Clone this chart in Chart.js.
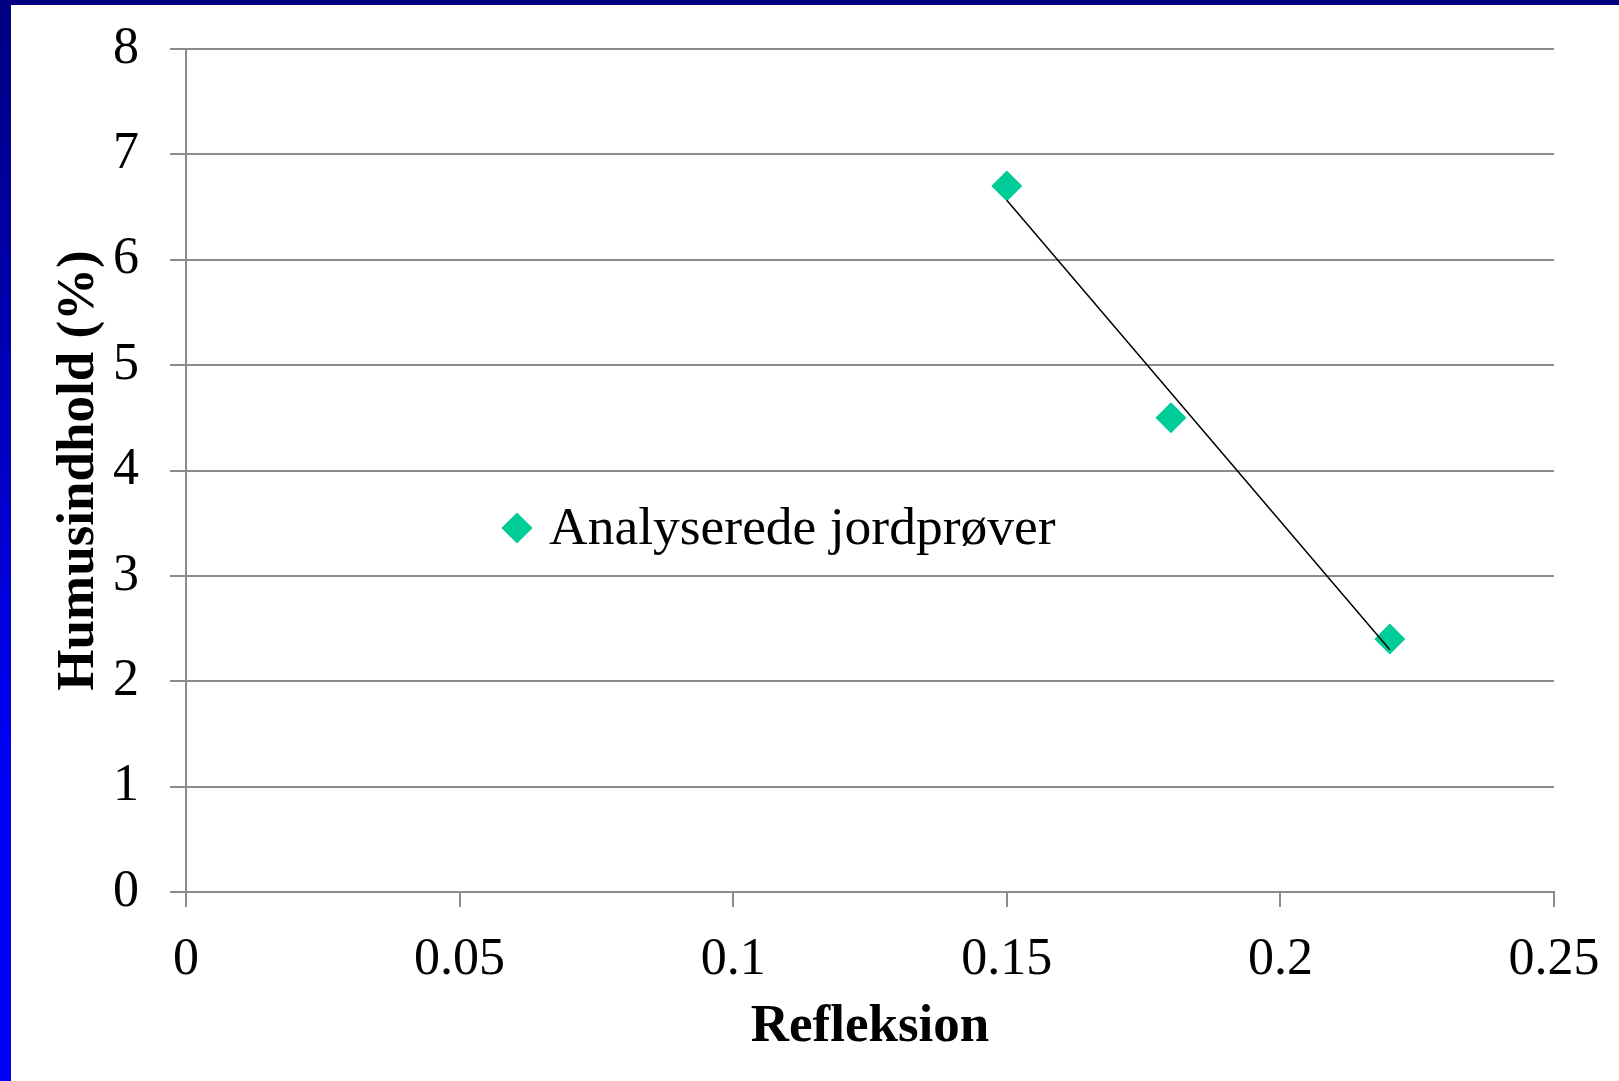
<!DOCTYPE html>
<html>
<head>
<meta charset="utf-8">
<script src="https://cdn.jsdelivr.net/npm/chart.js@4/dist/chart.umd.min.js"></script>
<style>
  html, body { margin: 0; padding: 0; background: #ffffff; overflow: hidden; }
  #wrap { position: absolute; left: 0; top: 0; width: 1619px; height: 1081px; }
  #topband { position: absolute; left: 0; top: 0; width: 1619px; height: 5px; background: #000080; }
  #leftband { position: absolute; left: 0; top: 0; width: 11px; height: 1081px;
    background: linear-gradient(to bottom, #000080 0%, #0000c8 45%, #0000ff 75%, #0000ff 100%); }
  #legend { position: absolute; left: 500px; top: 500px; height: 56px;
    font-family: 'Liberation Serif', 'Times New Roman', serif; font-size: 53.5px; line-height: 53px; color: #000; white-space: nowrap; }
  #legend .mark { position: absolute; left: 6px; top: 17px; width: 22px; height: 22px; transform: rotate(45deg); }
  #legend .txt { position: absolute; left: 49px; top: 0; }
</style>
</head>
<body>
<div id="wrap"><canvas id="c"></canvas></div>
<div id="topband"></div>
<div id="leftband"></div>
<div id="legend"></div>
<script>
// ---- data ----
const seriesLabel = 'Analyserede jordprøver';
const reflexion = [0.15, 0.18, 0.22];
const humus = [6.7, 4.5, 2.4];
const xTickLabels = ['0', '0.05', '0.1', '0.15', '0.2', '0.25'];
const yTickLabels = ['0', '1', '2', '3', '4', '5', '6', '7', '8'];
const xTitle = 'Refleksion';
const yTitle = 'Humusindhold (%)';

const markerColor = '#00CC99';
const gridColor = '#8c8c8c';
const fontFamily = "'Liberation Serif', 'Times New Roman', serif";

// linear trendline (least squares) from the data
const n = reflexion.length;
const mx = reflexion.reduce((a, b) => a + b, 0) / n;
const my = humus.reduce((a, b) => a + b, 0) / n;
let sxy = 0, sxx = 0;
for (let i = 0; i < n; i++) { sxy += (reflexion[i] - mx) * (humus[i] - my); sxx += (reflexion[i] - mx) ** 2; }
const slope = sxy / sxx, intercept = my - slope * mx;
const xMin = Math.min(...reflexion), xMax = Math.max(...reflexion);
const trend = [{ x: xMin, y: intercept + slope * xMin }, { x: xMax, y: intercept + slope * xMax }];

const points = reflexion.map((x, i) => ({ x, y: humus[i] }));

const W = 1619, H = 1081;
const plotLeft = 186, plotRight = 1554, plotTop = 49, plotBottom = 892;

const chart = new Chart(document.getElementById('c'), {
  type: 'scatter',
  data: {
    datasets: [
      {
        label: 'trend',
        type: 'line',
        data: trend,
        borderColor: '#000000',
        borderWidth: 1.5,
        pointRadius: 0,
        pointHoverRadius: 0,
        fill: false,
        order: 0
      },
      {
        label: seriesLabel,
        data: points,
        pointStyle: 'rectRot',
        pointRadius: 15.5,
        pointHoverRadius: 15.5,
        backgroundColor: markerColor,
        borderColor: markerColor,
        borderWidth: 0,
        order: 1
      }
    ]
  },
  options: {
    responsive: true,
    maintainAspectRatio: false,
    animation: false,
    events: [],
    layout: { padding: { left: 0, top: plotTop, right: W - plotRight, bottom: 0 } },
    plugins: { legend: { display: false }, tooltip: { enabled: false } },
    scales: {
      x: {
        type: 'linear',
        min: 0, max: 0.25,
        afterFit: s => { s.height = H - plotBottom; s.paddingLeft = 0; s.paddingRight = 0; },
        ticks: {
          stepSize: 0.05,
          color: '#000',
          font: { family: fontFamily, size: 52 },
          padding: 22,
          maxRotation: 0,
          callback: (v, i) => xTickLabels[i]
        },
        grid: { drawOnChartArea: false, drawTicks: true, tickLength: 15, color: gridColor, lineWidth: 2 },
        border: { display: true, color: gridColor, width: 2 },
        title: {
          display: true, text: xTitle, color: '#000',
          font: { family: fontFamily, size: 53, weight: 'bold', lineHeight: 1 },
          padding: { top: 0, bottom: 27 }
        }
      },
      y: {
        min: 0, max: 8,
        afterFit: s => { s.width = plotLeft; s.paddingTop = 0; s.paddingBottom = 0; },
        ticks: {
          stepSize: 1,
          color: '#000',
          font: { family: fontFamily, size: 52 },
          padding: 31,
          callback: (v, i) => yTickLabels[i]
        },
        grid: { drawOnChartArea: true, drawTicks: true, tickLength: 16, color: gridColor, lineWidth: 2 },
        border: { display: true, color: gridColor, width: 2 },
        title: {
          display: true, text: yTitle, color: '#000',
          font: { family: fontFamily, size: 53, weight: 'bold', lineHeight: 1 },
          padding: { top: 53, bottom: 0 }
        }
      }
    }
  }
});

// HTML legend built from the chart's scatter dataset
const ds = chart.data.datasets[1];
const lg = document.getElementById('legend');
const mk = document.createElement('div'); mk.className = 'mark'; mk.style.background = ds.backgroundColor;
const tx = document.createElement('div'); tx.className = 'txt'; tx.textContent = ds.label;
lg.appendChild(mk); lg.appendChild(tx);
</script>
</body>
</html>
